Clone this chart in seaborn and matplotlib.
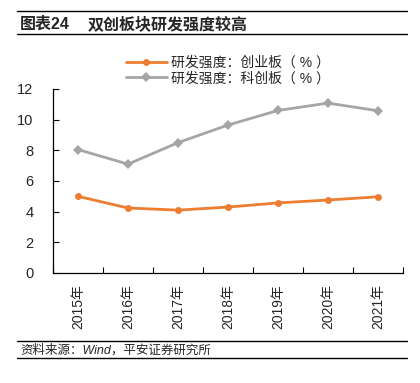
import matplotlib
matplotlib.use("Agg")
import matplotlib.pyplot as plt
import seaborn as sns
import pandas as pd
import numpy as np

years = ["2015年", "2016年", "2017年", "2018年", "2019年", "2020年", "2021年"]
cyb = [5.0, 4.24, 4.1, 4.3, 4.57, 4.76, 4.97]
kcb = [8.05, 7.1, 8.5, 9.65, 10.6, 11.08, 10.58]
series_names = ["研发强度：创业板（ % ）", "研发强度：科创板（ % ）"]
yticks = [0, 2, 4, 6, 8, 10, 12]

sns.set_theme(style="white")
plt.rcParams['font.family'] = ['Liberation Sans', 'Noto Sans CJK SC', 'DejaVu Sans']
plt.rcParams['axes.unicode_minus'] = False

fig = plt.figure(figsize=(4.2, 3.83), dpi=100)
ax = fig.add_axes([53/420, 1-273/383, 350/420, 184/383])

df = pd.DataFrame({"year": years * 2,
                   "value": cyb + kcb,
                   "series": [series_names[0]] * 7 + [series_names[1]] * 7})
sns.lineplot(data=df, x="year", y="value", hue="series", style="series",
             markers={series_names[0]: "o", series_names[1]: "D"},
             dashes=False, palette=["#ED7D31", "#A5A5A5"],
             linewidth=2, markersize=5, markeredgewidth=0, ax=ax, sort=False)

ax.set_xlim(-0.5, 6.5)
ax.set_ylim(0, 12)
ax.set_yticks(yticks)
ax.set_yticklabels([str(v) for v in yticks], fontsize=10.5)
ax.set_xticks(np.arange(-0.5, 7, 1), minor=False)
ax.set_xticklabels([])
ax.set_xticks(np.arange(7), minor=True)
ax.set_xticklabels(years, minor=True, rotation=90, fontsize=10)
ax.tick_params(axis='x', which='minor', bottom=False, length=0, pad=8)
ax.tick_params(axis='x', which='major', bottom=True, direction='in', length=4, width=0.8, color='black')
ax.tick_params(axis='y', left=True, direction='in', length=4, width=0.8, color='black', pad=14)
ax.set_xlabel("")
ax.set_ylabel("")
for s in ["top", "right"]:
    ax.spines[s].set_visible(False)
for s in ["left", "bottom"]:
    ax.spines[s].set_color("black")
    ax.spines[s].set_linewidth(0.9)

leg = ax.legend(loc="center", bbox_to_anchor=(0.5, 1.1), frameon=False,
                fontsize=10, handlelength=3, labelspacing=0.1, borderpad=0, handletextpad=0.3)

# header and footer
fig.add_artist(plt.Line2D([17/420, 407/420], [1-11/383, 1-11/383], color="black", lw=1))
fig.add_artist(plt.Line2D([17/420, 407/420], [1-34/383, 1-34/383], color="black", lw=1))
fig.text(20/420, 1-24/383, "图表24", fontsize=11.5, fontweight="bold", va="center")
fig.text(88/420, 1-24/383, "双创板块研发强度较高", fontsize=11.5, fontweight="bold", va="center")
fig.add_artist(plt.Line2D([17/420, 407/420], [1-341/383, 1-341/383], color="black", lw=1))
fig.add_artist(plt.Line2D([17/420, 407/420], [1-358/383, 1-358/383], color="black", lw=1))
fig.text(20/420, 1-350/383, "资料来源：Wind，平安证券研究所", fontsize=9, style="italic", va="center")

fig.savefig("out.png", dpi=100)
